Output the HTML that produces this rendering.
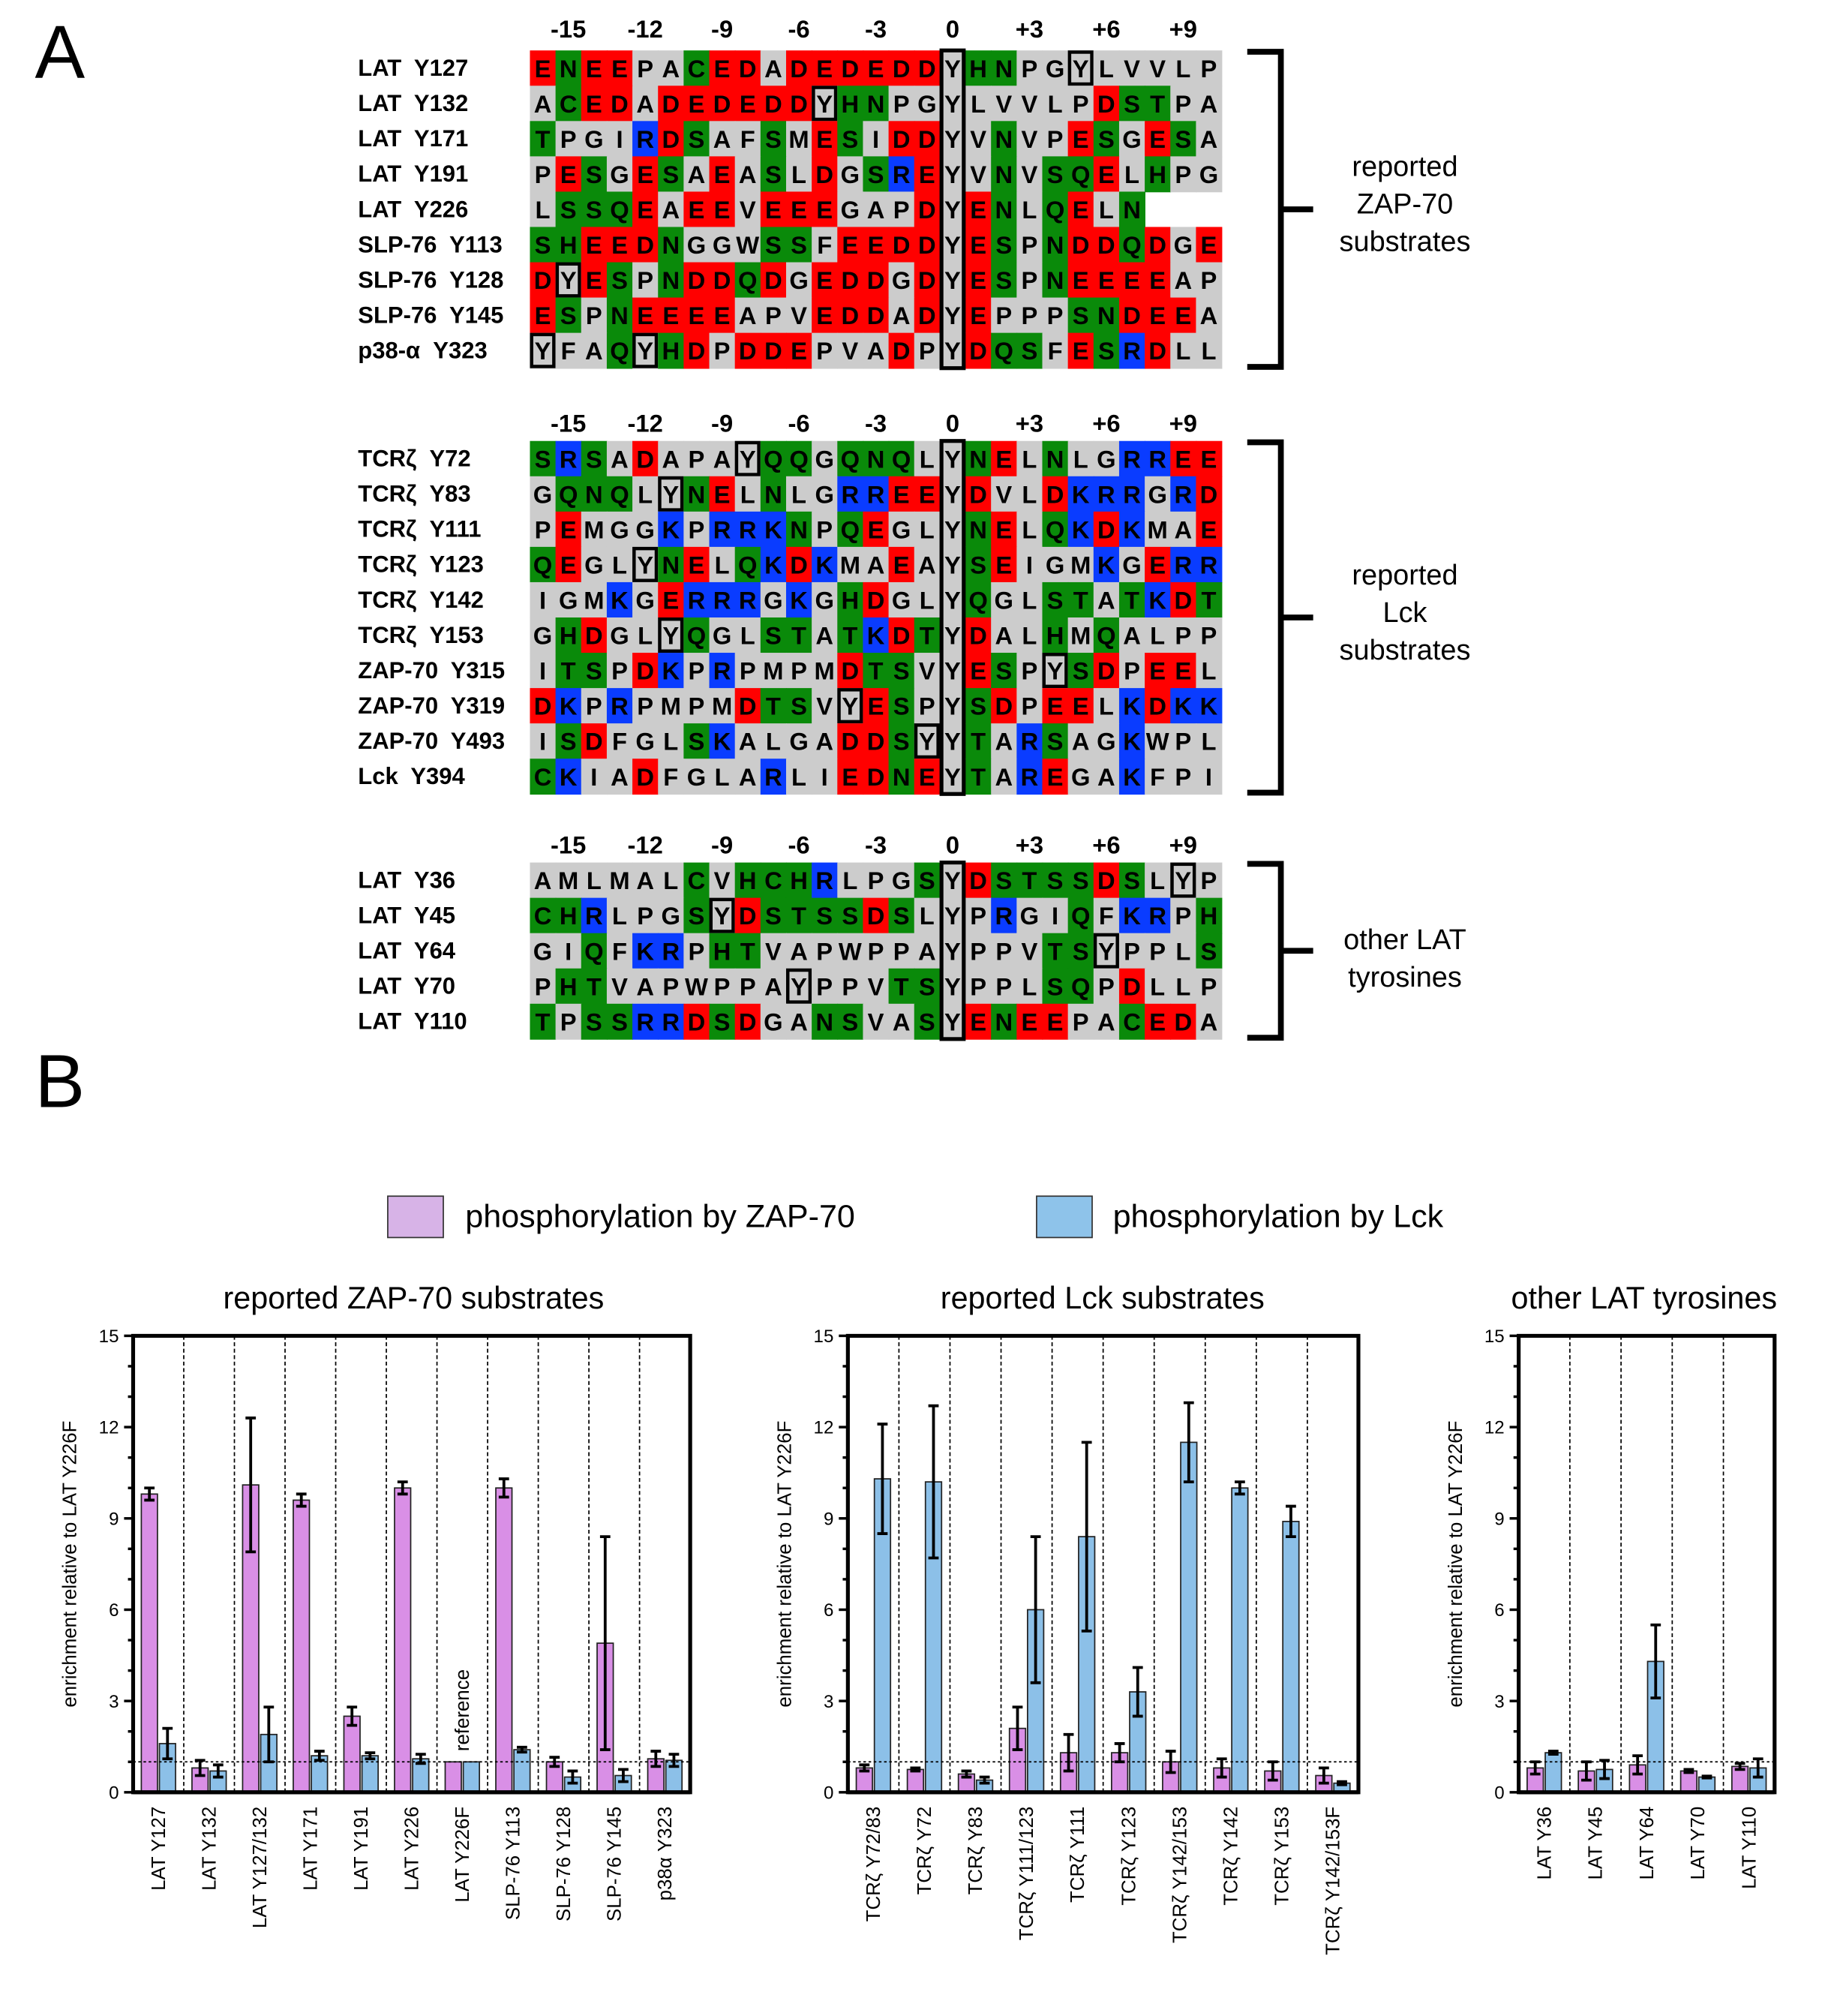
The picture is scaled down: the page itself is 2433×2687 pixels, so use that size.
<!DOCTYPE html>
<html><head><meta charset="utf-8"><style>
html,body{margin:0;padding:0;background:#fff}
svg{display:block}
text{font-family:"Liberation Sans",sans-serif}
.seq{font-weight:bold;font-size:19px;font-family:"Liberation Sans Narrow","Liberation Sans",sans-serif}
.lbl{font-weight:bold;font-size:18px;white-space:pre;font-family:"Liberation Sans Narrow","Liberation Sans",sans-serif}
</style></head><body>
<svg id="fig" xmlns="http://www.w3.org/2000/svg" width="2433" height="2687" viewBox="0 0 1412 1559" preserveAspectRatio="none">
<text x="27" y="60" font-size="58">A</text>
<text x="27" y="856" font-size="58">B</text>
<g>
<rect x="300" y="925" width="43" height="32" fill="#d7b3e7" stroke="#333" stroke-width="1"/>
<text x="360" y="949" font-size="25">phosphorylation by ZAP-70</text>
<rect x="802" y="925" width="43" height="32" fill="#8ec3ea" stroke="#333" stroke-width="1"/>
<text x="861" y="949" font-size="25">phosphorylation by Lck</text>
</g>
</svg>
<script>
const NS="http://www.w3.org/2000/svg";
const svg=document.getElementById('fig');
function mk(tag,attrs,parent,txt){const e=document.createElementNS(NS,tag);for(const k in attrs)e.setAttribute(k,attrs[k]);if(txt!==undefined)e.textContent=txt;(parent||svg).appendChild(e);return e;}

// ---------- Alignment data ----------
const panel1Labels=["LAT  Y127","LAT  Y132","LAT  Y171","LAT  Y191","LAT  Y226","SLP-76  Y113","SLP-76  Y128","SLP-76  Y145","p38-\u03b1  Y323"];
const panel1Seqs=["ENEEPACEDADEDEDDYHNPGYLVVLP","ACEDADEDEDDYHNPGYLVVLPDSTPA","TPGIRDSAFSMESIDDYVNVPESGESA","PESGESAEASLDGSREYVNVSQELHPG","LSSQEAEEVEEEGAPDYENLQELN","SHEEDNGGWSSFEEDDYESPNDDQDGE","DYESPNDDQDGEDDGDYESPNEEEEAP","ESPNEEEEAPVEDDADYEPPPSNDEEA","YFAQYHDPDDEPVADPYDQSFESRDLL"];
const panel2Labels=["TCR\u03b6  Y72","TCR\u03b6  Y83","TCR\u03b6  Y111","TCR\u03b6  Y123","TCR\u03b6  Y142","TCR\u03b6  Y153","ZAP-70  Y315","ZAP-70  Y319","ZAP-70  Y493","Lck  Y394"];
const panel2Seqs=["SRSADAPAYQQGQNQLYNELNLGRREE","GQNQLYNELNLGRREEYDVLDKRRGRD","PEMGGKPRRKNPQEGLYNELQKDKMAE","QEGLYNELQKDKMAEAYSEIGMKGERR","IGMKGERRRGKGHDGLYQGLSTATKDT","GHDGLYQGLSTATKDTYDALHMQALPP","ITSPDKPRPMPMDTSVYESPYSDPEEL","DKPRPMPMDTSVYESPYSDPEELKDKK","ISDFGLSKALGADDSYYTARSAGKWPL","CKIADFGLARLIEDNEYTAREGAKFPI"];
const panel3Labels=["LAT  Y36","LAT  Y45","LAT  Y64","LAT  Y70","LAT  Y110"];
const panel3Seqs=["AMLMALCVHCHRLPGSYDSTSSDSLYP","CHRLPGSYDSTSSDSLYPRGIQFKRPH","GIQFKRPHTVAPWPPAYPPVTSYPPLS","PHTVAPWPPAYPPVTSYPPLSQPDLLP","TPSSRRDSDGANSVASYENEEPACEDA"];
const posLabels=["-15","-12","-9","-6","-3","0","+3","+6","+9"];

const X0=410, CW=19.82, RH=27.3;
function color(c){ if("DE".includes(c))return"#ff0000"; if("STNQCH".includes(c))return"#0a8a0a"; if("KR".includes(c))return"#0a3cff"; return"#cccccc";}

function panel(name,labels,seqs,top,posY,brText,brTextY){
  const g=mk('g',{});
  
  
  posLabels.forEach((p,i)=>{const t=mk('text',{x:X0+(1+3*i+0.5)*CW,y:posY,'text-anchor':'middle','font-size':19,'font-weight':'bold'},g,p);
    
    });
  seqs.forEach((s,r)=>{
    const y=top+r*RH;
    const lt=mk('text',{x:277,y:y+RH/2+6,class:'lbl'},g,labels[r]);
    
    
    for(let i=0;i<s.length;i++){
      const c=s[i];const x=X0+i*CW;
      const rc=mk('rect',{x:x,y:y,width:CW+0.5,height:RH+0.5,fill:color(c)},g);
      
      
      mk('text',{x:x+CW/2,y:y+RH/2+7,'text-anchor':'middle',class:'seq'},g,c);
      if(c==='Y'&&i!==16){mk('rect',{x:x+1.3,y:y+1.3,width:CW-2.6,height:RH-2.6,fill:'none',stroke:'#000','stroke-width':2.6},g);}
    }
  });
  const h=seqs.length*RH;
  const cb=mk('rect',{x:X0+16*CW+1.3,y:top,width:CW-2.6,height:h,fill:'none',stroke:'#000','stroke-width':3},g);
  
  
  const b=mk('path',{d:`M965 ${top+1}H991V${top+h-1}H965M991 ${top+h/2}H1016`,fill:'none',stroke:'#000','stroke-width':4.5},g);
  
  
  brText.forEach((t,i)=>{const e=mk('text',{x:1087,y:brTextY+i*29,'text-anchor':'middle','font-size':22},g,t);
    
    });
}
panel('alignment-zap70-substrates',panel1Labels,panel1Seqs,39,29,["reported","ZAP-70","substrates"],136);
panel('alignment-lck-substrates',panel2Labels,panel2Seqs,341,334,["reported","Lck","substrates"],452);
panel('alignment-other-lat',panel3Labels,panel3Seqs,667,660,["other LAT","tyrosines"],734);

// ---------- Chart data ----------
const c1Cats=["LAT Y127","LAT Y132","LAT Y127/132","LAT Y171","LAT Y191","LAT Y226","LAT Y226F","SLP-76 Y113","SLP-76 Y128","SLP-76 Y145","p38\u03b1 Y323"];
const c1Zap=[9.8,0.8,10.1,9.6,2.5,10.0,1,10.0,1.0,4.9,1.1];
const c1ZapErr=[0.2,0.25,2.2,0.2,0.3,0.2,0,0.3,0.15,3.5,0.25];
const c1Lck=[1.6,0.7,1.9,1.2,1.2,1.1,1,1.4,0.5,0.55,1.05];
const c1LckErr=[0.5,0.2,0.9,0.15,0.1,0.15,0,0.08,0.2,0.2,0.2];
const c2Cats=["TCR\u03b6 Y72/83","TCR\u03b6 Y72","TCR\u03b6 Y83","TCR\u03b6 Y111/123","TCR\u03b6 Y111","TCR\u03b6 Y123","TCR\u03b6 Y142/153","TCR\u03b6 Y142","TCR\u03b6 Y153","TCR\u03b6 Y142/153F"];
const c2Zap=[0.8,0.75,0.6,2.1,1.3,1.3,1.0,0.8,0.7,0.55];
const c2ZapErr=[0.1,0.05,0.1,0.7,0.6,0.3,0.35,0.3,0.3,0.25];
const c2Lck=[10.3,10.2,0.4,6.0,8.4,3.3,11.5,10.0,8.9,0.3];
const c2LckErr=[1.8,2.5,0.1,2.4,3.1,0.8,1.3,0.2,0.5,0.05];
const c3Cats=["LAT Y36","LAT Y45","LAT Y64","LAT Y70","LAT Y110"];
const c3Zap=[0.8,0.7,0.9,0.7,0.85];
const c3ZapErr=[0.2,0.3,0.3,0.05,0.1];
const c3Lck=[1.3,0.75,4.3,0.5,0.8];
const c3LckErr=[0.05,0.3,1.2,0.03,0.3];
const yTicks=[0,3,6,9,12,15];

function chart(name,title,titleX,left,right,cats,zap,zapErr,lck,lckErr,refIdx){
  const g=mk('g',{});
  
  
  const top=1033,bot=1386;
  const y=v=>bot-(v/15)*(bot-top);
  const gw=(right-left)/cats.length;
  const x=i=>left+gw*(i+0.5);
  const tt=mk('text',{x:titleX,y:1012,'text-anchor':'middle','font-size':24},g,title);
  
  
  for(let i=1;i<cats.length;i++){mk('line',{x1:left+gw*i,x2:left+gw*i,y1:top,y2:bot,stroke:'#000','stroke-width':1,'stroke-dasharray':'3,2'},g);}
  cats.forEach((c,i)=>{
    const bw=12.5;
    [[zap,zapErr,-7,'#d98fe6','bar-zap70'],[lck,lckErr,7,'#8cc0e8','bar-lck']].forEach(([vals,errs,off,fill,nm])=>{
      const cx=x(i)+off;
      const r=mk('rect',{x:cx-bw/2,y:y(vals[i]),width:bw,height:bot-y(vals[i]),fill:fill,stroke:'#222','stroke-width':1},g);
      
      
      if(errs[i]>0){
        const e=mk('path',{d:`M${cx} ${y(vals[i]+errs[i])}V${y(Math.max(0,vals[i]-errs[i]))}M${cx-4} ${y(vals[i]+errs[i])}H${cx+4}M${cx-4} ${y(Math.max(0,vals[i]-errs[i]))}H${cx+4}`,stroke:'#000','stroke-width':2.2,fill:'none'},g);
        
        
      }
    });
    const lt=mk('text',{transform:`translate(${x(i)+5},${bot+11}) rotate(-90)`,'text-anchor':'end','font-size':15},g,c);
    
    
  });
  if(refIdx>=0){const rt=mk('text',{transform:`translate(${x(refIdx)+5},${y(1.35)}) rotate(-90)`,'font-size':15},g,'reference');
    
    }
  mk('line',{x1:left,x2:right,y1:y(1),y2:y(1),stroke:'#000','stroke-width':1,'stroke-dasharray':'2,2'},g);
  const fr=mk('path',{d:`M${left} ${top}H${right}V${bot}H${left}Z`,fill:'none',stroke:'#000','stroke-width':3},g);
  
  
  for(let v=0;v<=15;v++){mk('line',{x1:left-(v%3===0?7:4),x2:left,y1:y(v),y2:y(v),stroke:'#000','stroke-width':2},g);}
  mk('line',{x1:left,x2:right,y1:bot,y2:bot,stroke:'#000','stroke-width':3},g);
  yTicks.forEach(v=>{const t=mk('text',{x:left-11,y:y(v)+5,'text-anchor':'end','font-size':14},g,String(v));
    
    });
  const yt=mk('text',{transform:`translate(${left-44},${(top+bot)/2}) rotate(-90)`,'text-anchor':'middle','font-size':15},g,'enrichment relative to LAT Y226F');
  
  
}
chart('chart-zap70-substrates','reported ZAP-70 substrates',320,103,534,c1Cats,c1Zap,c1ZapErr,c1Lck,c1LckErr,6);
chart('chart-lck-substrates','reported Lck substrates',853,656,1051,c2Cats,c2Zap,c2ZapErr,c2Lck,c2LckErr,-1);
chart('chart-other-lat','other LAT tyrosines',1272,1175,1373,c3Cats,c3Zap,c3ZapErr,c3Lck,c3LckErr,-1);
</script>
</body></html>
